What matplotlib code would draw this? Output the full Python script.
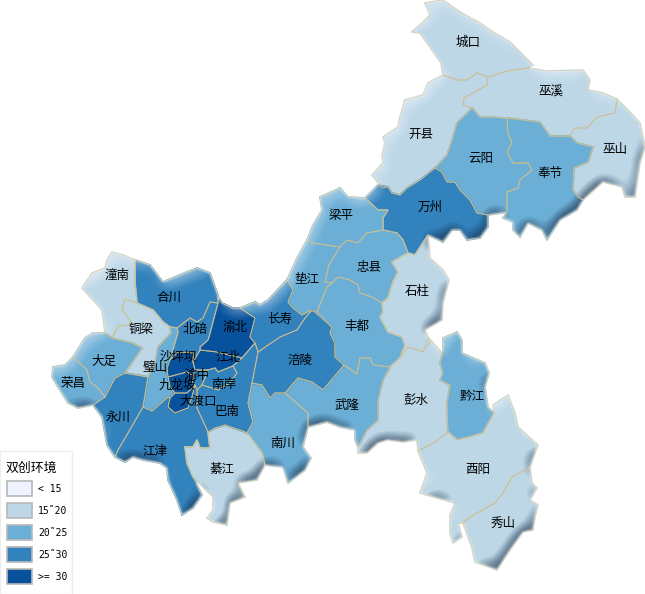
import numpy as np
import matplotlib
matplotlib.use('Agg')
import matplotlib.pyplot as plt
from matplotlib.patches import Polygon, Rectangle
from matplotlib.path import Path

plt.rcParams['font.family'] = ['Noto Sans CJK SC', 'DejaVu Sans']

legend_title = '双创环境'
legend_labels = ['< 15', '15˜20', '20˜25', '25˜30', '>= 30']
colors = ['#eff3ff', '#bdd7e7', '#6baed6', '#3182bd', '#08519c']

# class of every district (index into colors), outline
names = ['城口', '巫溪', '巫山', '开县', '云阳', '奉节', '万州', '梁平', '忠县', '垫江',
         '丰都', '石柱', '彭水', '黔江', '酉阳', '秀山', '武隆', '南川', '涪陵', '长寿',
         '渝北', '江北', '北碚', '合川', '潼南', '铜梁', '璧山', '大足', '荣昌', '永川',
         '江津', '綦江', '巴南', '南岸', '渝中', '沙坪坝', '九龙坡', '大渡口']
classes = [1, 1, 1, 1, 2, 2, 3, 2, 2, 2,
           2, 1, 1, 2, 1, 1, 2, 2, 3, 3,
           4, 4, 3, 3, 1, 1, 2, 2, 2, 3,
           3, 1, 3, 3, 3, 4, 4, 4]
label_x = [468, 551, 615, 421, 481, 550, 430, 341, 369, 307,
           357, 417, 416, 472, 478, 503, 347, 283, 300, 280,
           235, 228, 195, 169, 117, 141, 155, 104, 73, 118,
           155, 222, 227, 224, 197, 178, 177, 198]
label_y = [42, 92, 150, 134, 158, 174, 207, 215, 268, 279,
           326, 292, 400, 396, 469, 523, 406, 443, 360, 319,
           327, 357, 330, 297, 275, 330, 367, 361, 384, 417,
           452, 470, 411, 384, 375, 358, 385, 401]

outlines = [
    [(425,3),(443,0),(460,12),(480,23),(493,32),(510,42),(523,55),(533,65),(528,68),(507,71),(488,77),(477,73),(467,80),(457,80),(443,75),(441,63),(432,50),(420,33),(412,32),(422,23),(430,15)],
    [(488,77),(507,71),(528,68),(547,71),(583,70),(590,80),(588,90),(603,93),(617,99),(615,113),(597,117),(587,128),(575,128),(570,136),(550,136),(540,122),(507,118),(487,117),(480,117),(472,108),(463,105),(464,98),(473,93),(487,85)],
    [(617,99),(630,112),(640,123),(645,147),(640,163),(635,197),(625,197),(622,187),(603,182),(583,200),(578,197),(573,190),(574,168),(588,162),(593,147),(577,143),(570,136),(575,128),(587,128),(597,117),(615,113)],
    [(443,75),(457,80),(467,80),(477,73),(488,77),(487,85),(473,93),(464,98),(463,105),(472,108),(463,117),(457,123),(452,140),(447,155),(435,168),(420,180),(407,188),(400,195),(392,193),(388,187),(382,188),(372,175),(383,163),(382,155),(385,143),(383,137),(398,127),(400,117),(405,100),(423,95),(428,83)],
    [(472,108),(480,117),(487,117),(507,118),(508,133),(512,143),(507,152),(513,163),(528,163),(532,170),(520,180),(518,188),(507,192),(507,212),(502,213),(488,215),(477,213),(470,200),(460,190),(455,182),(447,182),(442,172),(435,168),(447,155),(452,140),(457,123),(463,117)],
    [(507,118),(540,122),(550,136),(570,136),(577,143),(593,147),(588,162),(574,168),(573,190),(578,197),(583,200),(577,210),(560,220),(547,240),(542,230),(528,223),(520,237),(513,230),(513,222),(503,218),(507,212),(507,192),(518,188),(520,180),(532,170),(528,163),(513,163),(507,152),(512,143),(508,133)],
    [(435,168),(442,172),(447,182),(455,182),(460,190),(470,200),(477,213),(488,215),(488,227),(480,238),(467,240),(460,230),(452,230),(443,242),(428,235),(415,255),(408,253),(403,240),(397,233),(383,230),(383,218),(388,210),(378,210),(365,198),(378,185),(388,187),(392,193),(400,195),(407,188),(420,180)],
    [(307,240),(313,225),(322,210),(320,197),(340,188),(348,197),(365,198),(378,210),(388,210),(383,218),(383,230),(367,233),(358,243),(347,240),(340,247),(312,243)],
    [(347,240),(358,243),(367,233),(383,230),(397,233),(403,240),(408,253),(392,262),(398,272),(393,282),(388,298),(382,303),(372,297),(360,293),(358,285),(350,280),(338,277),(332,283),(325,282),(329,265),(340,247)],
    [(307,240),(312,243),(340,247),(329,265),(325,282),(332,283),(327,287),(317,312),(310,310),(302,315),(293,308),(288,302),(293,290),(287,280),(297,258)],
    [(338,277),(350,280),(358,285),(360,293),(372,297),(382,303),(383,312),(380,317),(388,332),(402,337),(405,345),(400,358),(390,367),(373,365),(370,358),(360,358),(357,374),(344,365),(335,357),(335,343),(330,333),(332,327),(317,312),(327,287),(332,283)],
    [(408,253),(415,255),(428,235),(430,258),(443,270),(449,280),(443,303),(442,320),(425,330),(430,342),(423,352),(408,347),(400,358),(405,345),(402,337),(388,332),(380,317),(383,312),(382,303),(388,298),(393,282),(398,272),(392,262)],
    [(408,347),(423,352),(428,337),(442,353),(440,363),(443,373),(440,380),(450,385),(447,403),(448,432),(435,442),(418,451),(417,440),(403,442),(387,440),(378,443),(367,453),(358,453),(358,447),(367,430),(378,420),(378,400),(383,380),(390,367),(400,358)],
    [(457,332),(462,340),(462,353),(485,363),(489,373),(485,387),(488,407),(494,413),(483,433),(470,437),(457,440),(448,432),(447,403),(450,385),(440,380),(443,373),(440,363),(443,353),(443,338)],
    [(418,451),(435,442),(448,432),(457,440),(470,437),(483,433),(494,413),(493,405),(508,395),(515,413),(518,427),(538,445),(530,467),(512,477),(503,493),(495,503),(470,517),(463,523),(458,523),(462,537),(453,543),(450,533),(450,515),(455,503),(437,498),(420,493),(427,473)],
    [(530,467),(532,483),(537,488),(530,500),(538,505),(535,517),(533,530),(523,532),(510,550),(497,570),(475,562),(472,548),(463,523),(470,517),(495,503),(503,493),(512,477)],
    [(390,367),(383,380),(378,400),(378,420),(367,430),(358,447),(355,440),(355,430),(340,427),(327,422),(308,427),(308,413),(285,393),(298,378),(312,382),(323,390),(344,365),(357,374),(360,358),(370,358),(373,365)],
    [(285,393),(308,413),(308,427),(303,447),(311,458),(305,470),(288,483),(283,467),(265,465),(262,453),(247,433),(253,422),(248,403),(252,383),(262,385),(270,398),(275,393)],
    [(312,310),(332,327),(330,333),(335,343),(335,357),(344,365),(323,390),(312,382),(298,378),(285,393),(275,393),(270,398),(262,385),(252,383),(258,352),(280,337),(297,330),(305,318)],
    [(240,308),(255,302),(260,305),(268,300),(287,280),(293,290),(288,302),(293,308),(302,315),(312,310),(305,318),(297,330),(280,337),(258,352),(255,343),(250,337),(255,318)],
    [(218,297),(222,303),(233,308),(240,308),(255,318),(250,337),(255,343),(242,358),(217,352),(200,350),(200,347),(208,340),(210,333),(218,303)],
    [(200,350),(217,352),(242,358),(233,366),(218,372),(215,368),(208,370),(195,370),(193,362)],
    [(210,302),(218,303),(210,333),(208,340),(200,347),(200,350),(193,362),(193,353),(178,352),(170,360),(178,332),(177,328),(190,318),(197,322),(203,318)],
    [(135,260),(150,265),(163,282),(187,272),(197,268),(210,273),(218,295),(218,303),(210,302),(203,318),(197,322),(190,318),(177,328),(170,327),(163,322),(153,310),(137,303),(135,283)],
    [(112,252),(123,255),(135,260),(135,283),(137,303),(125,299),(122,310),(130,320),(130,325),(118,326),(112,338),(105,333),(102,310),(93,300),(82,288),(92,273),(105,268),(107,260)],
    [(125,299),(137,303),(153,310),(163,322),(170,327),(171,333),(158,347),(155,363),(148,377),(125,373),(142,348),(132,343),(112,338),(118,326),(130,325),(130,320),(122,310)],
    [(177,328),(170,327),(171,333),(158,347),(155,363),(148,377),(143,407),(152,411),(168,397),(170,398),(175,393),(170,387),(168,377),(167,368),(170,360),(178,332)],
    [(105,333),(112,338),(132,343),(142,348),(125,373),(115,378),(105,397),(97,387),(90,382),(87,370),(73,357),(85,338),(93,333)],
    [(73,357),(87,370),(90,382),(97,387),(105,397),(93,405),(78,408),(68,403),(58,387),(52,377),(53,367),(65,365)],
    [(125,373),(148,377),(143,407),(128,433),(118,450),(115,457),(107,445),(102,417),(93,405),(105,397),(115,378)],
    [(143,407),(152,411),(168,397),(170,398),(168,407),(175,413),(188,408),(192,397),(195,385),(197,390),(197,408),(208,432),(210,448),(200,448),(197,440),(193,447),(185,447),(187,463),(193,477),(202,495),(193,508),(182,515),(177,500),(168,480),(167,468),(160,463),(143,460),(133,457),(125,462),(115,457),(118,450),(128,433)],
    [(208,432),(215,428),(225,425),(245,432),(247,433),(262,453),(265,465),(257,480),(238,483),(245,497),(230,503),(227,525),(213,522),(207,518),(213,510),(213,497),(203,487),(193,477),(187,463),(185,447),(193,447),(197,440),(200,448),(210,448)],
    [(255,343),(258,352),(252,383),(248,403),(253,422),(247,433),(245,432),(225,425),(215,428),(208,432),(197,408),(197,390),(202,385),(218,390),(230,383),(237,373),(233,366),(242,358)],
    [(208,370),(215,368),(218,372),(233,366),(237,373),(230,383),(218,390),(202,385),(205,378)],
    [(195,370),(208,370),(205,378),(202,385),(197,390),(195,385),(192,383),(193,376)],
    [(170,360),(178,352),(193,353),(193,362),(195,370),(193,376),(187,372),(168,377),(167,368)],
    [(168,377),(187,372),(193,376),(192,383),(195,385),(187,393),(175,393),(170,387)],
    [(175,393),(187,393),(195,385),(192,397),(188,408),(175,413),(168,407),(170,398)],
]


def blur(img, sigma):
    r = int(3 * sigma)
    k = np.exp(-np.arange(-r, r + 1) ** 2 / (2.0 * sigma ** 2))
    k = k / k.sum()
    img = np.apply_along_axis(lambda v: np.convolve(v, k, mode='same'), 0, img)
    return np.apply_along_axis(lambda v: np.convolve(v, k, mode='same'), 1, img)


fig = plt.figure(figsize=(6.45, 5.94), dpi=100)
ax = fig.add_axes([0, 0, 1, 1])

for pts, c in zip(outlines, classes):
    ax.add_patch(Polygon(pts, closed=True, facecolor=colors[c], edgecolor=colors[c], linewidth=1.2, zorder=1))

# bevel: darker on edges that face south-east, a little paler on the others
xx, yy = np.meshgrid(np.arange(645) + 0.5, np.arange(594) + 0.5)
grid = np.column_stack([xx.ravel(), yy.ravel()])
mask = np.zeros(xx.shape)
for pts in outlines:
    mask[Path(pts).contains_points(grid).reshape(xx.shape)] = 1.0
mask = np.maximum(mask, (blur(mask, 1.5) > 0.55) * 1.0)
h = blur(mask, 7.0)
gy, gx = np.gradient(h)
s = -(gy * 1.0 + gx * 0.55)
dark = np.clip(s * 13.0 - 0.22, 0, 0.55)
light = np.clip(-s * 6.0 - 0.04, 0, 0.35)
shade = np.zeros(xx.shape + (4,))
shade[..., :3] = np.where(dark[..., None] > 0, np.array([0.1, 0.18, 0.28]), np.array([1.0, 1.0, 1.0]))
shade[..., 3] = np.where(dark > 0, dark, light) * mask
ax.imshow(shade, extent=(0, 645, 594, 0), interpolation='bilinear', zorder=2, aspect='auto')

for pts in outlines:
    ax.add_patch(Polygon(pts, closed=True, facecolor='none', edgecolor='#cdbf90', linewidth=0.7, alpha=0.85, joinstyle='round', zorder=3))

# soft outer rim, fades the hard outline into the white page
rim = np.ones(xx.shape + (4,))
rim[..., 3] = np.clip((1.0 - blur(mask, 1.3)) * 1.3, 0, 0.85) * blur(mask, 1.0)
ax.imshow(rim, extent=(0, 645, 594, 0), interpolation='bilinear', zorder=4, aspect='auto')
ax.set_xlim(0, 645)
ax.set_ylim(594, 0)
ax.axis('off')

for name, x, y in zip(names, label_x, label_y):
    ax.text(x, y, name, fontsize=9, color='black', ha='center', va='center', zorder=5)

# legend
ax.add_patch(Rectangle((0, 451), 72, 143, facecolor='white', edgecolor='#eeeeee', linewidth=1, zorder=6))
ax.text(6, 468, legend_title, fontsize=9.3, color='black', ha='left', va='center', zorder=7)
swatch_y = [481, 503, 525, 547, 569]
for c, lab, y in zip(colors, legend_labels, swatch_y):
    ax.add_patch(Rectangle((6.5, y), 25, 15, facecolor=c, edgecolor='#b8b8b8', linewidth=1.2, zorder=7))
    ax.text(38, y + 8, lab, fontsize=7, family='DejaVu Sans Mono', color='black', ha='left', va='center', zorder=7)

fig.savefig('out.png', dpi=100)
